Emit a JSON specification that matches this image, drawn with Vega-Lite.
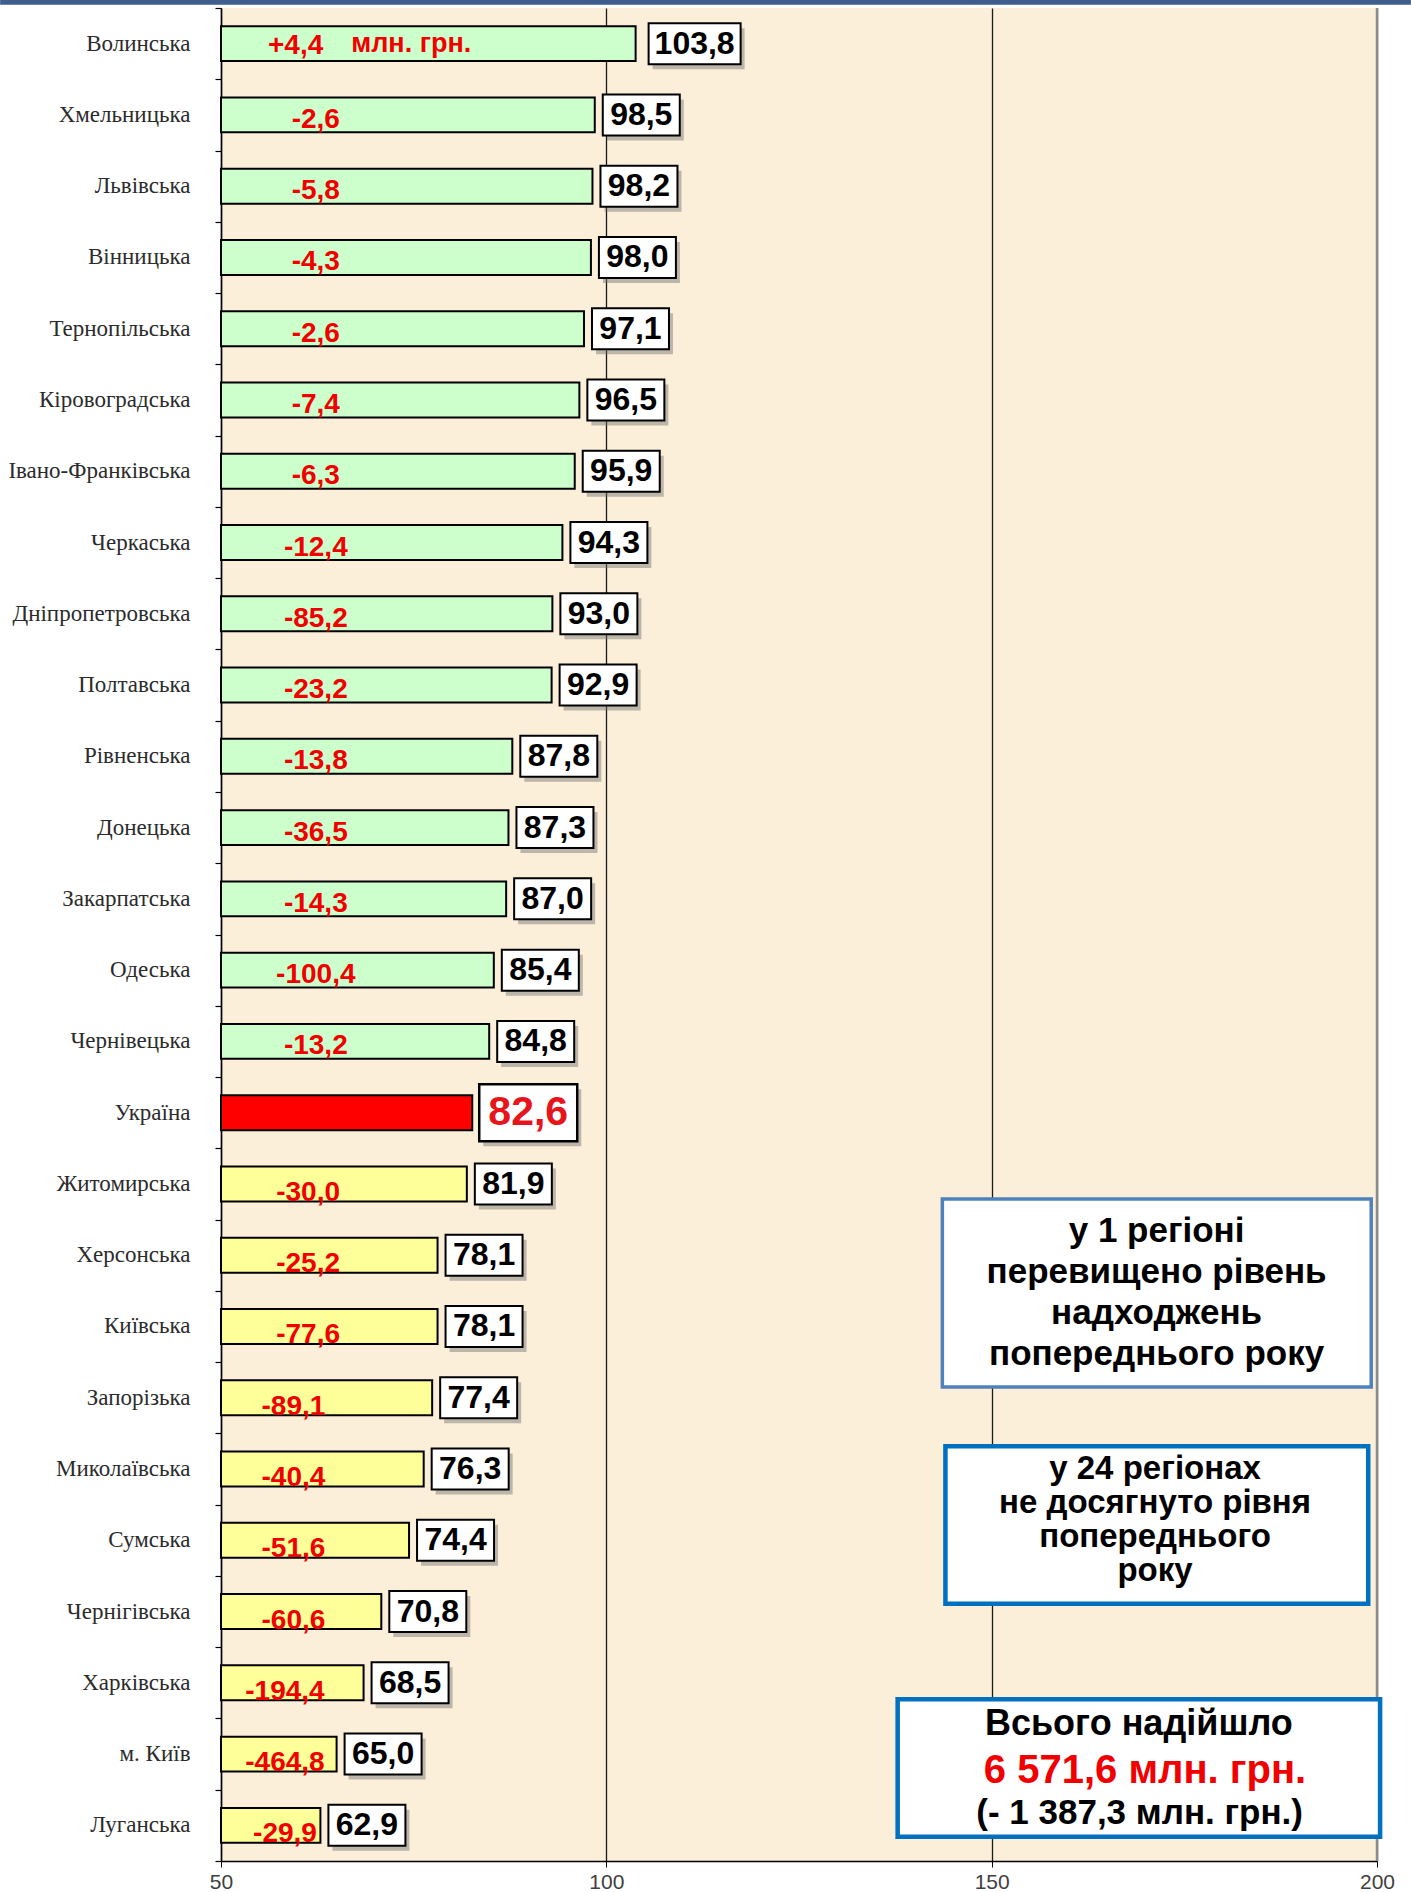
{
  "$schema": "https://vega.github.io/schema/vega-lite/v6.json",
  "width": 1156,
  "height": 1853,
  "autosize": {"type": "none"},
  "padding": {"left": 221, "top": 8, "right": 34, "bottom": 31},
  "background": "white",
  "config": {
    "view": {"fill": "#FBEFD9", "stroke": null},
    "locale": {"number": {"decimal": ",", "thousands": " ", "grouping": [3], "currency": ["", ""], "minus": "-"}}
  },
  "datasets": {
    "regions": [
      {"name": "Волинська", "value": 103.8, "change": 4.4, "group": "green"},
      {"name": "Хмельницька", "value": 98.5, "change": -2.6, "group": "green"},
      {"name": "Львівська", "value": 98.2, "change": -5.8, "group": "green"},
      {"name": "Вінницька", "value": 98.0, "change": -4.3, "group": "green"},
      {"name": "Тернопільська", "value": 97.1, "change": -2.6, "group": "green"},
      {"name": "Кіровоградська", "value": 96.5, "change": -7.4, "group": "green"},
      {"name": "Івано-Франківська", "value": 95.9, "change": -6.3, "group": "green"},
      {"name": "Черкаська", "value": 94.3, "change": -12.4, "group": "green"},
      {"name": "Дніпропетровська", "value": 93.0, "change": -85.2, "group": "green"},
      {"name": "Полтавська", "value": 92.9, "change": -23.2, "group": "green"},
      {"name": "Рівненська", "value": 87.8, "change": -13.8, "group": "green"},
      {"name": "Донецька", "value": 87.3, "change": -36.5, "group": "green"},
      {"name": "Закарпатська", "value": 87.0, "change": -14.3, "group": "green"},
      {"name": "Одеська", "value": 85.4, "change": -100.4, "group": "green"},
      {"name": "Чернівецька", "value": 84.8, "change": -13.2, "group": "green"},
      {"name": "Україна", "value": 82.6, "change": null, "group": "ukraine"},
      {"name": "Житомирська", "value": 81.9, "change": -30.0, "group": "yellow"},
      {"name": "Херсонська", "value": 78.1, "change": -25.2, "group": "yellow"},
      {"name": "Київська", "value": 78.1, "change": -77.6, "group": "yellow"},
      {"name": "Запорізька", "value": 77.4, "change": -89.1, "group": "yellow"},
      {"name": "Миколаївська", "value": 76.3, "change": -40.4, "group": "yellow"},
      {"name": "Сумська", "value": 74.4, "change": -51.6, "group": "yellow"},
      {"name": "Чернігівська", "value": 70.8, "change": -60.6, "group": "yellow"},
      {"name": "Харківська", "value": 68.5, "change": -194.4, "group": "yellow"},
      {"name": "м. Київ", "value": 65.0, "change": -464.8, "group": "yellow"},
      {"name": "Луганська", "value": 62.9, "change": -29.9, "group": "yellow"}
    ]
  },
  "data": {"name": "regions"},
  "layer": [
    {
      "mark": {"type": "bar", "stroke": "black", "strokeWidth": 2},
      "encoding": {
        "y": {
          "field": "name", "type": "nominal",
          "scale": {"type": "band", "domain": ["Волинська","Хмельницька","Львівська","Вінницька","Тернопільська","Кіровоградська","Івано-Франківська","Черкаська","Дніпропетровська","Полтавська","Рівненська","Донецька","Закарпатська","Одеська","Чернівецька","Україна","Житомирська","Херсонська","Київська","Запорізька","Миколаївська","Сумська","Чернігівська","Харківська","м. Київ","Луганська"], "paddingInner": 0.51, "paddingOuter": 0.255},
          "axis": {"orient": "left", "title": null, "ticks": false, "tickSize": 0, "labelPadding": 31, "labelLimit": 400, "labelFont": "Liberation Serif", "labelFontSize": 23, "labelColor": "#2B2B2B", "domain": true, "domainColor": "#000000", "domainWidth": 1.5, "grid": false}
        },
        "x": {
          "field": "value", "type": "quantitative",
          "scale": {"domain": [50, 200], "nice": false, "zero": false},
          "axis": {
            "orient": "bottom", "title": null, "values": [50, 100, 150, 200], "grid": true, "gridColor": "#1A1A1A", "gridWidth": 1.3,
            "domainColor": "#000000", "domainWidth": 1.5, "tickColor": "#000000", "tickSize": 6,
            "labelFont": "Liberation Sans", "labelFontSize": 21, "labelColor": "#404040", "labelPadding": 4, "labelFlush": false
          }
        },
        "x2": {"datum": 50},
        "color": {"field": "group", "type": "nominal", "scale": {"domain": ["green", "ukraine", "yellow"], "range": ["#CCFFCC", "#FF0000", "#FFFF99"]}, "legend": null}
      }
    },
    {
      "transform": [{"filter": "(datum.group === 'green' || datum.group === 'yellow') && datum.name !== 'Волинська'"}],
      "mark": {"type": "bar", "xOffset": 12, "x2Offset": 89, "yOffset": 5, "height": 41, "fill": "#6E6E6E", "opacity": 0.45},
      "encoding": {
        "y": {"field": "name", "type": "nominal", "scale": {"type": "band", "domain": ["Волинська","Хмельницька","Львівська","Вінницька","Тернопільська","Кіровоградська","Івано-Франківська","Черкаська","Дніпропетровська","Полтавська","Рівненська","Донецька","Закарпатська","Одеська","Чернівецька","Україна","Житомирська","Херсонська","Київська","Запорізька","Миколаївська","Сумська","Чернігівська","Харківська","м. Київ","Луганська"], "paddingInner": 0.51, "paddingOuter": 0.255}, "axis": null},
        "x": {"field": "value", "type": "quantitative", "axis": null},
        "x2": {"field": "value"}
      }
    },
    {
      "transform": [{"filter": "(datum.group === 'green' || datum.group === 'yellow') && datum.name !== 'Волинська'"}],
      "mark": {"type": "bar", "xOffset": 8, "x2Offset": 85, "height": 41, "fill": "white", "stroke": "black", "strokeWidth": 2},
      "encoding": {
        "y": {"field": "name", "type": "nominal", "scale": {"type": "band", "domain": ["Волинська","Хмельницька","Львівська","Вінницька","Тернопільська","Кіровоградська","Івано-Франківська","Черкаська","Дніпропетровська","Полтавська","Рівненська","Донецька","Закарпатська","Одеська","Чернівецька","Україна","Житомирська","Херсонська","Київська","Запорізька","Миколаївська","Сумська","Чернігівська","Харківська","м. Київ","Луганська"], "paddingInner": 0.51, "paddingOuter": 0.255}, "axis": null},
        "x": {"field": "value", "type": "quantitative", "axis": null},
        "x2": {"field": "value"}
      }
    },
    {
      "transform": [{"filter": "(datum.group === 'green' || datum.group === 'yellow') && datum.name !== 'Волинська'"}],
      "mark": {"type": "text", "xOffset": 46.5, "align": "center", "baseline": "middle", "font": "Liberation Sans", "fontWeight": "bold", "fontSize": 32, "color": "#000000"},
      "encoding": {
        "y": {"field": "name", "type": "nominal", "scale": {"type": "band", "domain": ["Волинська","Хмельницька","Львівська","Вінницька","Тернопільська","Кіровоградська","Івано-Франківська","Черкаська","Дніпропетровська","Полтавська","Рівненська","Донецька","Закарпатська","Одеська","Чернівецька","Україна","Житомирська","Херсонська","Київська","Запорізька","Миколаївська","Сумська","Чернігівська","Харківська","м. Київ","Луганська"], "paddingInner": 0.51, "paddingOuter": 0.255}, "axis": null},
        "x": {"field": "value", "type": "quantitative", "axis": null},
        "text": {"field": "value", "type": "quantitative", "format": ".1f"}
      }
    },
    {
      "transform": [{"filter": "datum.name === 'Волинська'"}],
      "mark": {"type": "bar", "xOffset": 17, "x2Offset": 109, "yOffset": 5, "height": 41, "fill": "#6E6E6E", "opacity": 0.45},
      "encoding": {
        "y": {"field": "name", "type": "nominal", "scale": {"type": "band", "domain": ["Волинська","Хмельницька","Львівська","Вінницька","Тернопільська","Кіровоградська","Івано-Франківська","Черкаська","Дніпропетровська","Полтавська","Рівненська","Донецька","Закарпатська","Одеська","Чернівецька","Україна","Житомирська","Херсонська","Київська","Запорізька","Миколаївська","Сумська","Чернігівська","Харківська","м. Київ","Луганська"], "paddingInner": 0.51, "paddingOuter": 0.255}, "axis": null},
        "x": {"field": "value", "type": "quantitative", "axis": null},
        "x2": {"field": "value"}
      }
    },
    {
      "transform": [{"filter": "datum.name === 'Волинська'"}],
      "mark": {"type": "bar", "xOffset": 13, "x2Offset": 105, "height": 41, "fill": "white", "stroke": "black", "strokeWidth": 2},
      "encoding": {
        "y": {"field": "name", "type": "nominal", "scale": {"type": "band", "domain": ["Волинська","Хмельницька","Львівська","Вінницька","Тернопільська","Кіровоградська","Івано-Франківська","Черкаська","Дніпропетровська","Полтавська","Рівненська","Донецька","Закарпатська","Одеська","Чернівецька","Україна","Житомирська","Херсонська","Київська","Запорізька","Миколаївська","Сумська","Чернігівська","Харківська","м. Київ","Луганська"], "paddingInner": 0.51, "paddingOuter": 0.255}, "axis": null},
        "x": {"field": "value", "type": "quantitative", "axis": null},
        "x2": {"field": "value"}
      }
    },
    {
      "transform": [{"filter": "datum.name === 'Волинська'"}],
      "mark": {"type": "text", "xOffset": 59, "align": "center", "baseline": "middle", "font": "Liberation Sans", "fontWeight": "bold", "fontSize": 32, "color": "#000000"},
      "encoding": {
        "y": {"field": "name", "type": "nominal", "scale": {"type": "band", "domain": ["Волинська","Хмельницька","Львівська","Вінницька","Тернопільська","Кіровоградська","Івано-Франківська","Черкаська","Дніпропетровська","Полтавська","Рівненська","Донецька","Закарпатська","Одеська","Чернівецька","Україна","Житомирська","Херсонська","Київська","Запорізька","Миколаївська","Сумська","Чернігівська","Харківська","м. Київ","Луганська"], "paddingInner": 0.51, "paddingOuter": 0.255}, "axis": null},
        "x": {"field": "value", "type": "quantitative", "axis": null},
        "text": {"field": "value", "type": "quantitative", "format": ".1f"}
      }
    },
    {
      "transform": [{"filter": "datum.group === 'ukraine'"}],
      "mark": {"type": "bar", "xOffset": 11, "x2Offset": 109, "yOffset": 5, "height": 57, "fill": "#6E6E6E", "opacity": 0.45},
      "encoding": {
        "y": {"field": "name", "type": "nominal", "scale": {"type": "band", "domain": ["Волинська","Хмельницька","Львівська","Вінницька","Тернопільська","Кіровоградська","Івано-Франківська","Черкаська","Дніпропетровська","Полтавська","Рівненська","Донецька","Закарпатська","Одеська","Чернівецька","Україна","Житомирська","Херсонська","Київська","Запорізька","Миколаївська","Сумська","Чернігівська","Харківська","м. Київ","Луганська"], "paddingInner": 0.51, "paddingOuter": 0.255}, "axis": null},
        "x": {"field": "value", "type": "quantitative", "axis": null},
        "x2": {"field": "value"}
      }
    },
    {
      "transform": [{"filter": "datum.group === 'ukraine'"}],
      "mark": {"type": "bar", "xOffset": 7, "x2Offset": 105, "height": 57, "fill": "white", "stroke": "black", "strokeWidth": 2.5},
      "encoding": {
        "y": {"field": "name", "type": "nominal", "scale": {"type": "band", "domain": ["Волинська","Хмельницька","Львівська","Вінницька","Тернопільська","Кіровоградська","Івано-Франківська","Черкаська","Дніпропетровська","Полтавська","Рівненська","Донецька","Закарпатська","Одеська","Чернівецька","Україна","Житомирська","Херсонська","Київська","Запорізька","Миколаївська","Сумська","Чернігівська","Харківська","м. Київ","Луганська"], "paddingInner": 0.51, "paddingOuter": 0.255}, "axis": null},
        "x": {"field": "value", "type": "quantitative", "axis": null},
        "x2": {"field": "value"}
      }
    },
    {
      "transform": [{"filter": "datum.group === 'ukraine'"}],
      "mark": {"type": "text", "xOffset": 56, "align": "center", "baseline": "middle", "font": "Liberation Sans", "fontWeight": "bold", "fontSize": 41, "color": "#E8141C"},
      "encoding": {
        "y": {"field": "name", "type": "nominal", "scale": {"type": "band", "domain": ["Волинська","Хмельницька","Львівська","Вінницька","Тернопільська","Кіровоградська","Івано-Франківська","Черкаська","Дніпропетровська","Полтавська","Рівненська","Донецька","Закарпатська","Одеська","Чернівецька","Україна","Житомирська","Херсонська","Київська","Запорізька","Миколаївська","Сумська","Чернігівська","Харківська","м. Київ","Луганська"], "paddingInner": 0.51, "paddingOuter": 0.255}, "axis": null},
        "x": {"field": "value", "type": "quantitative", "axis": null},
        "text": {"field": "value", "type": "quantitative", "format": ".1f"}
      }
    },
    {
      "transform": [{"filter": "datum.group === 'green' && datum.name !== 'Волинська'"}],
      "mark": {"type": "text", "align": "center", "baseline": "middle", "dy": 5, "font": "Liberation Sans", "fontWeight": "bold", "fontSize": 28, "color": "#F00000"},
      "encoding": {
        "y": {"field": "name", "type": "nominal", "scale": {"type": "band", "domain": ["Волинська","Хмельницька","Львівська","Вінницька","Тернопільська","Кіровоградська","Івано-Франківська","Черкаська","Дніпропетровська","Полтавська","Рівненська","Донецька","Закарпатська","Одеська","Чернівецька","Україна","Житомирська","Херсонська","Київська","Запорізька","Миколаївська","Сумська","Чернігівська","Харківська","м. Київ","Луганська"], "paddingInner": 0.51, "paddingOuter": 0.255}, "axis": null},
        "x": {"datum": 62.3, "type": "quantitative", "axis": null},
        "text": {"field": "change", "type": "quantitative", "format": ".1f"}
      }
    },
    {
      "transform": [{"filter": "indexof(['Житомирська','Херсонська','Київська'], datum.name) >= 0"}],
      "mark": {"type": "text", "align": "center", "baseline": "middle", "dy": 9, "font": "Liberation Sans", "fontWeight": "bold", "fontSize": 28, "color": "#F00000"},
      "encoding": {
        "y": {"field": "name", "type": "nominal", "scale": {"type": "band", "domain": ["Волинська","Хмельницька","Львівська","Вінницька","Тернопільська","Кіровоградська","Івано-Франківська","Черкаська","Дніпропетровська","Полтавська","Рівненська","Донецька","Закарпатська","Одеська","Чернівецька","Україна","Житомирська","Херсонська","Київська","Запорізька","Миколаївська","Сумська","Чернігівська","Харківська","м. Київ","Луганська"], "paddingInner": 0.51, "paddingOuter": 0.255}, "axis": null},
        "x": {"datum": 61.3, "type": "quantitative", "axis": null},
        "text": {"field": "change", "type": "quantitative", "format": ".1f"}
      }
    },
    {
      "transform": [{"filter": "indexof(['Запорізька','Миколаївська','Сумська','Чернігівська'], datum.name) >= 0"}],
      "mark": {"type": "text", "align": "center", "baseline": "middle", "dy": 9, "font": "Liberation Sans", "fontWeight": "bold", "fontSize": 28, "color": "#F00000"},
      "encoding": {
        "y": {"field": "name", "type": "nominal", "scale": {"type": "band", "domain": ["Волинська","Хмельницька","Львівська","Вінницька","Тернопільська","Кіровоградська","Івано-Франківська","Черкаська","Дніпропетровська","Полтавська","Рівненська","Донецька","Закарпатська","Одеська","Чернівецька","Україна","Житомирська","Херсонська","Київська","Запорізька","Миколаївська","Сумська","Чернігівська","Харківська","м. Київ","Луганська"], "paddingInner": 0.51, "paddingOuter": 0.255}, "axis": null},
        "x": {"datum": 59.4, "type": "quantitative", "axis": null},
        "text": {"field": "change", "type": "quantitative", "format": ".1f"}
      }
    },
    {
      "transform": [{"filter": "indexof(['Харківська','м. Київ','Луганська'], datum.name) >= 0"}],
      "mark": {"type": "text", "align": "center", "baseline": "middle", "dy": 9, "font": "Liberation Sans", "fontWeight": "bold", "fontSize": 28, "color": "#F00000"},
      "encoding": {
        "y": {"field": "name", "type": "nominal", "scale": {"type": "band", "domain": ["Волинська","Хмельницька","Львівська","Вінницька","Тернопільська","Кіровоградська","Івано-Франківська","Черкаська","Дніпропетровська","Полтавська","Рівненська","Донецька","Закарпатська","Одеська","Чернівецька","Україна","Житомирська","Херсонська","Київська","Запорізька","Миколаївська","Сумська","Чернігівська","Харківська","м. Київ","Луганська"], "paddingInner": 0.51, "paddingOuter": 0.255}, "axis": null},
        "x": {"datum": 58.3, "type": "quantitative", "axis": null},
        "text": {"field": "change", "type": "quantitative", "format": ".1f"}
      }
    },
    {
      "transform": [{"filter": "datum.name === 'Волинська'"}],
      "mark": {"type": "text", "align": "left", "baseline": "middle", "dy": 2, "font": "Liberation Sans", "fontWeight": "bold", "fontSize": 28, "color": "#F00000"},
      "encoding": {
        "y": {"field": "name", "type": "nominal", "scale": {"type": "band", "domain": ["Волинська","Хмельницька","Львівська","Вінницька","Тернопільська","Кіровоградська","Івано-Франківська","Черкаська","Дніпропетровська","Полтавська","Рівненська","Донецька","Закарпатська","Одеська","Чернівецька","Україна","Житомирська","Херсонська","Київська","Запорізька","Миколаївська","Сумська","Чернігівська","Харківська","м. Київ","Луганська"], "paddingInner": 0.51, "paddingOuter": 0.255}, "axis": null},
        "x": {"datum": 56.1, "type": "quantitative", "axis": null},
        "text": {"field": "change", "type": "quantitative", "format": "+.1f"}
      }
    },
    {
      "transform": [{"filter": "datum.name === 'Волинська'"}],
      "mark": {"type": "text", "align": "left", "baseline": "middle", "dy": 0, "font": "Liberation Sans", "fontWeight": "bold", "fontSize": 27, "color": "#F00000", "text": "млн. грн."},
      "encoding": {
        "y": {"field": "name", "type": "nominal", "scale": {"type": "band", "domain": ["Волинська","Хмельницька","Львівська","Вінницька","Тернопільська","Кіровоградська","Івано-Франківська","Черкаська","Дніпропетровська","Полтавська","Рівненська","Донецька","Закарпатська","Одеська","Чернівецька","Україна","Житомирська","Херсонська","Київська","Запорізька","Миколаївська","Сумська","Чернігівська","Харківська","м. Київ","Луганська"], "paddingInner": 0.51, "paddingOuter": 0.255}, "axis": null},
        "x": {"datum": 66.9, "type": "quantitative", "axis": null}
      }
    },
    {
      "data": {"values": [{}]},
      "mark": {"type": "rule", "stroke": "#3F5E8E", "strokeWidth": 5},
      "encoding": {
        "x": {"datum": 21.34, "type": "quantitative", "axis": null},
        "x2": {"datum": 204.4},
        "y": {"datum": -0.08, "type": "quantitative", "scale": {"domain": [0, 26], "reverse": true, "nice": false, "zero": false},
          "axis": {"orient": "left", "title": null, "values": [0,1,2,3,4,5,6,7,8,9,10,11,12,13,14,15,16,17,18,19,20,21,22,23,24,25,26], "labels": false, "ticks": true, "tickSize": 6, "tickColor": "#000000", "tickWidth": 1.2, "domain": false, "grid": false}
        }
      }
    },
    {
      "data": {"values": [{}]},
      "mark": {"type": "rule", "stroke": "#8C8C8C", "strokeWidth": 2.5},
      "encoding": {
        "x": {"datum": 200, "type": "quantitative", "axis": null},
        "y": {"datum": 0, "type": "quantitative", "scale": {"domain": [0, 26], "reverse": true, "nice": false, "zero": false}, "axis": null},
        "y2": {"datum": 26}
      }
    },
    {
      "data": {"values": [{}]},
      "mark": {"type": "rect", "fill": "white", "stroke": "#4F81BD", "strokeWidth": 3.5},
      "encoding": {
        "x": {"datum": 143.6, "type": "quantitative", "axis": null},
        "x2": {"datum": 199.25},
        "y": {"datum": 16.71, "type": "quantitative", "scale": {"domain": [0, 26], "reverse": true, "nice": false, "zero": false}, "axis": null},
        "y2": {"datum": 19.35}
      }
    },
    {
      "data": {"values": [{}]},
      "mark": {"type": "text", "align": "center", "baseline": "middle", "font": "Liberation Sans", "fontWeight": "bold", "fontSize": 35, "lineHeight": 41, "color": "#000000",
        "text": ["у 1 регіоні", "перевищено рівень", "надходжень", "попереднього року"]},
      "encoding": {
        "x": {"datum": 171.4, "type": "quantitative", "axis": null},
        "y": {"datum": 17.16, "type": "quantitative", "scale": {"domain": [0, 26], "reverse": true, "nice": false, "zero": false}, "axis": null}
      }
    },
    {
      "data": {"values": [{}]},
      "mark": {"type": "rect", "fill": "white", "stroke": "#0070C0", "strokeWidth": 4.5},
      "encoding": {
        "x": {"datum": 144.0, "type": "quantitative", "axis": null},
        "x2": {"datum": 198.86},
        "y": {"datum": 20.18, "type": "quantitative", "scale": {"domain": [0, 26], "reverse": true, "nice": false, "zero": false}, "axis": null},
        "y2": {"datum": 22.39}
      }
    },
    {
      "data": {"values": [{}]},
      "mark": {"type": "text", "align": "center", "baseline": "middle", "font": "Liberation Sans", "fontWeight": "bold", "fontSize": 33, "lineHeight": 34, "color": "#000000",
        "text": ["у 24 регіонах", "не досягнуто рівня", "попереднього", "року"]},
      "encoding": {
        "x": {"datum": 171.2, "type": "quantitative", "axis": null},
        "y": {"datum": 20.5, "type": "quantitative", "scale": {"domain": [0, 26], "reverse": true, "nice": false, "zero": false}, "axis": null}
      }
    },
    {
      "data": {"values": [{}]},
      "mark": {"type": "rect", "fill": "white", "stroke": "#0070C0", "strokeWidth": 4.5},
      "encoding": {
        "x": {"datum": 137.8, "type": "quantitative", "axis": null},
        "x2": {"datum": 200.4},
        "y": {"datum": 23.73, "type": "quantitative", "scale": {"domain": [0, 26], "reverse": true, "nice": false, "zero": false}, "axis": null},
        "y2": {"datum": 25.66}
      }
    },
    {
      "data": {"values": [{}]},
      "mark": {"type": "text", "align": "center", "baseline": "middle", "font": "Liberation Sans", "fontWeight": "bold", "fontSize": 36, "color": "#000000", "text": "Всього надійшло"},
      "encoding": {
        "x": {"datum": 169.1, "type": "quantitative", "axis": null},
        "y": {"datum": 24.08, "type": "quantitative", "scale": {"domain": [0, 26], "reverse": true, "nice": false, "zero": false}, "axis": null}
      }
    },
    {
      "data": {"values": [{}]},
      "mark": {"type": "text", "align": "center", "baseline": "middle", "font": "Liberation Sans", "fontWeight": "bold", "fontSize": 40, "color": "#F00000", "text": "6 571,6 млн. грн."},
      "encoding": {
        "x": {"datum": 169.9, "type": "quantitative", "axis": null},
        "y": {"datum": 24.74, "type": "quantitative", "scale": {"domain": [0, 26], "reverse": true, "nice": false, "zero": false}, "axis": null}
      }
    },
    {
      "data": {"values": [{}]},
      "mark": {"type": "text", "align": "center", "baseline": "middle", "font": "Liberation Sans", "fontWeight": "bold", "fontSize": 35, "color": "#000000", "text": "(- 1 387,3 млн. грн.)"},
      "encoding": {
        "x": {"datum": 169.2, "type": "quantitative", "axis": null},
        "y": {"datum": 25.33, "type": "quantitative", "scale": {"domain": [0, 26], "reverse": true, "nice": false, "zero": false}, "axis": null}
      }
    }
  ],
  "resolve": {"scale": {"y": "independent"}, "axis": {"x": "independent", "y": "independent"}}
}
